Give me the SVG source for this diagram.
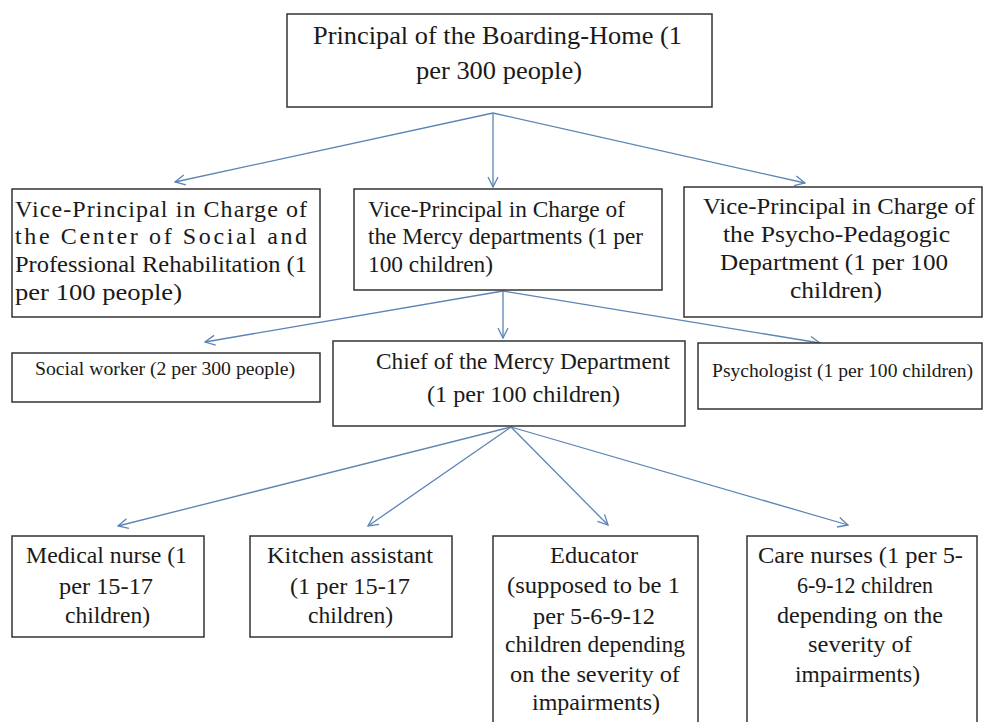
<svg xmlns="http://www.w3.org/2000/svg" width="984" height="722" viewBox="0 0 984 722">
<defs>
<style>
.box{fill:#ffffff;stroke:#333333;stroke-width:1.5}
.t{font-family:'Liberation Serif','DejaVu Serif','Noto Serif',serif;font-size:24px;fill:#1a1a1a}
.big{font-size:26px}
.sm{font-size:19px}
.c{fill:none;stroke:#5b84b5;stroke-width:1.3;marker-end:url(#ah)}
</style>
<marker id="ah" viewBox="0 0 12 12" refX="11" refY="6" markerWidth="12" markerHeight="12" markerUnits="userSpaceOnUse" orient="auto">
<path d="M1,1 L11,6 L1,11" fill="none" stroke="#5b84b5" stroke-width="1.3"/>
</marker>
</defs>
<rect width="984" height="722" fill="#ffffff"/>

<g id="connectors">
<line class="c" x1="493" y1="113" x2="175" y2="182"/>
<line class="c" x1="493" y1="113" x2="493" y2="187"/>
<line class="c" x1="493" y1="113" x2="805" y2="183"/>
<line class="c" x1="503" y1="291" x2="205" y2="342"/>
<line class="c" x1="503" y1="291" x2="503" y2="338"/>
<line class="c" x1="503" y1="291" x2="820" y2="343"/>
<line class="c" x1="511" y1="427" x2="118" y2="526"/>
<line class="c" x1="511" y1="427" x2="368" y2="526"/>
<line class="c" x1="511" y1="427" x2="608" y2="525"/>
<line class="c" x1="511" y1="427" x2="848" y2="525"/>
</g>

<g id="principal" font-family="Liberation Serif, DejaVu Serif, serif">
<rect class="box" x="287" y="14" width="425" height="93"/>
<text class="t big" x="313" y="44" textLength="369" lengthAdjust="spacingAndGlyphs">Principal of the Boarding-Home (1</text>
<text class="t big" x="416" y="79" textLength="166" lengthAdjust="spacingAndGlyphs">per 300 people)</text>
</g>

<g id="vp-center">
<rect class="box" x="12" y="189" width="308" height="128"/>
<text class="t" x="15" y="217" textLength="292" lengthAdjust="spacing">Vice-Principal in Charge of</text>
<text class="t" x="15" y="244" textLength="292" lengthAdjust="spacing">the Center of Social and</text>
<text class="t" x="15" y="272" textLength="292" lengthAdjust="spacingAndGlyphs">Professional Rehabilitation (1</text>
<text class="t" x="15" y="300" textLength="167" lengthAdjust="spacingAndGlyphs">per 100 people)</text>
</g>

<g id="vp-mercy">
<rect class="box" x="354" y="189" width="308" height="101"/>
<text class="t" x="368" y="217" textLength="257" lengthAdjust="spacingAndGlyphs">Vice-Principal in Charge of</text>
<text class="t" x="368" y="244" textLength="275" lengthAdjust="spacingAndGlyphs">the Mercy departments (1 per</text>
<text class="t" x="368" y="272" textLength="125" lengthAdjust="spacingAndGlyphs">100 children)</text>
</g>

<g id="vp-psycho">
<rect class="box" x="684" y="187" width="298" height="130"/>
<text class="t" x="703" y="214" textLength="272" lengthAdjust="spacingAndGlyphs">Vice-Principal in Charge of</text>
<text class="t" x="723" y="242" textLength="227" lengthAdjust="spacingAndGlyphs">the Psycho-Pedagogic</text>
<text class="t" x="720" y="270" textLength="228" lengthAdjust="spacingAndGlyphs">Department (1 per 100</text>
<text class="t" x="790" y="298" textLength="92" lengthAdjust="spacingAndGlyphs">children)</text>
</g>

<g id="social-worker">
<rect class="box" x="12" y="353" width="308" height="49"/>
<text class="t sm" x="35" y="375" textLength="260" lengthAdjust="spacingAndGlyphs">Social worker (2 per 300 people)</text>
</g>

<g id="chief">
<rect class="box" x="333" y="341" width="352" height="85"/>
<text class="t" x="376" y="369" textLength="294" lengthAdjust="spacingAndGlyphs">Chief of the Mercy Department</text>
<text class="t" x="427" y="402" textLength="193" lengthAdjust="spacingAndGlyphs">(1 per 100 children)</text>
</g>

<g id="psychologist">
<rect class="box" x="698" y="343" width="284" height="66"/>
<text class="t sm" x="712" y="377" textLength="261" lengthAdjust="spacingAndGlyphs">Psychologist (1 per 100 children)</text>
</g>

<g id="medical-nurse">
<rect class="box" x="12" y="536" width="192" height="101"/>
<text class="t" x="26" y="563" textLength="161" lengthAdjust="spacingAndGlyphs">Medical nurse (1</text>
<text class="t" x="59" y="594" textLength="94" lengthAdjust="spacingAndGlyphs">per 15-17</text>
<text class="t" x="65" y="623" textLength="85" lengthAdjust="spacingAndGlyphs">children)</text>
</g>

<g id="kitchen-assistant">
<rect class="box" x="250" y="536" width="202" height="101"/>
<text class="t" x="267" y="563" textLength="166" lengthAdjust="spacingAndGlyphs">Kitchen assistant</text>
<text class="t" x="290" y="594" textLength="120" lengthAdjust="spacingAndGlyphs">(1 per 15-17</text>
<text class="t" x="308" y="623" textLength="85" lengthAdjust="spacingAndGlyphs">children)</text>
</g>

<g id="educator">
<rect class="box" x="493" y="536" width="205" height="190"/>
<text class="t" x="550" y="563" textLength="88" lengthAdjust="spacingAndGlyphs">Educator</text>
<text class="t" x="507" y="593" textLength="173" lengthAdjust="spacingAndGlyphs">(supposed to be 1</text>
<text class="t" x="533" y="624" textLength="122" lengthAdjust="spacingAndGlyphs">per 5-6-9-12</text>
<text class="t" x="505" y="652" textLength="180" lengthAdjust="spacingAndGlyphs">children depending</text>
<text class="t" x="510" y="682" textLength="170" lengthAdjust="spacingAndGlyphs">on the severity of</text>
<text class="t" x="532" y="710" textLength="128" lengthAdjust="spacingAndGlyphs">impairments)</text>
</g>

<g id="care-nurses">
<rect class="box" x="747" y="536" width="230" height="190"/>
<text class="t" x="758" y="563" textLength="205" lengthAdjust="spacingAndGlyphs">Care nurses (1 per 5-</text>
<text class="t" x="797" y="593" textLength="136" lengthAdjust="spacingAndGlyphs">6-9-12 children</text>
<text class="t" x="777" y="623" textLength="166" lengthAdjust="spacingAndGlyphs">depending on the</text>
<text class="t" x="808" y="652" textLength="104" lengthAdjust="spacingAndGlyphs">severity of</text>
<text class="t" x="795" y="682" textLength="125" lengthAdjust="spacingAndGlyphs">impairments)</text>
</g>
</svg>
